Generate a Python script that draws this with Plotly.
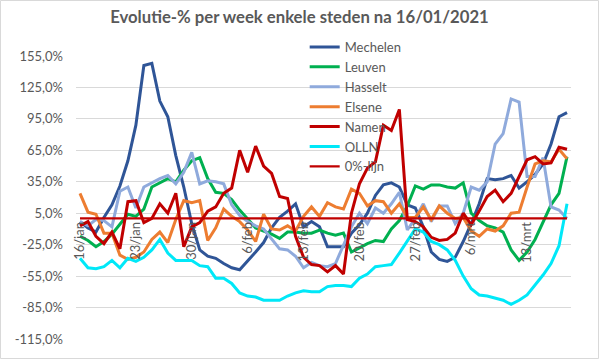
import pandas as pd
import plotly.graph_objects as go

start_date = "2021-01-16"

mechelen = [-3, -9, -13, 1, 13, 31, 55, 89, 146, 148, 112, 97, 60, 30, -5, -30,
            -36, -38, -43, -47, -49, -41, -32, -23, -9, 1, 7, 14, -8, -3, -8, -27,
            -27, -27, -14, -6, 5, 22, 32, 34, 30, 13, 10, -8, -32, -39, -41, -37,
            -22, -5, 14, 38, 37, 38, 41, 29, 35, 42, 52, 71, 97, 101]
leuven = [-17, -21, -27, -22, -15, -5, 4, 2, 9, 30, 34, 38, 35, 46, 55, 58,
          38, 25, 24, 18, 8, 0, -9, -12, -15, -19, -13, -13, -14, -14, -11, -14,
          -16, -14, -32, -28, -24, -21, -22, -10, -2, 12, 31, 28, 32, 32, 30, 29,
          34, 5, -2, -7, -9, -13, -30, -40, -32, -20, -3, 13, 24, 59]
hasselt = [-3, -7, -1, -2, -8, 26, 30, 10, 30, 34, 38, 41, 33, 44, 63, 33,
           36, 35, 33, 13, 3, -3, -7, -10, -20, -29, -30, -36, -47, -42, -45, -46,
           -43, -25, -8, 5, -5, 10, 5, 14, 25, -11, 0, 14, -3, 12, 12, -5,
           5, 30, 27, 35, 71, 81, 114, 111, 40, 40, 58, 11, 8, 0]
elsene = [24, 6, 4, -14, -14, -35, -39, -37, -32, -20, -13, -23, -1, 17, 15, 17,
          -21, -9, 9, 2, -3, -11, -22, 4, -10, -11, -7, -12, 2, 11, 2, 15,
          11, 9, 28, 24, 12, 17, 16, 5, 14, 1, 1, 11, -1, 12, 5, 0,
          1, -12, -17, -10, -12, -7, 5, 6, 30, 52, 55, 54, 66, 57]
namen = [-7, -3, -17, -24, -13, -29, 16, 17, -4, 0, 14, 5, 24, -27, -8, -4,
         7, 11, 24, 29, 65, 44, 69, 50, 43, 21, 19, -17, -37, -44, -45, -51,
         -45, -53, 5, 33, 48, 54, 89, 84, 104, -1, -3, -8, -18, -21, -20, -14,
         5, -6, 7, 21, 27, 16, 24, 40, 56, 59, 52, 53, 68, 66]
olln = [-38, -47, -48, -46, -40, -47, -38, -41, -37, -30, -20, -33, -40, -40, -40, -45,
        -46, -57, -57, -62, -71, -74, -75, -78, -78, -78, -74, -71, -69, -70, -70, -65,
        -64, -64, -65, -57, -53, -46, -45, -44, -33, -22, -10, -13, -22, -25, -30, -40,
        -55, -67, -73, -74, -76, -78, -82, -78, -73, -64, -54, -43, -26, 14]
nullijn = [0] * 62

series_names = ["Mechelen", "Leuven", "Hasselt", "Elsene", "Namen", "OLLN", "0%-lijn"]
series_values = [mechelen, leuven, hasselt, elsene, namen, olln, nullijn]
series_colors = ["#2F5597", "#00B050", "#8FAADC", "#ED7D31", "#C00000", "#00E8F8", "#C00000"]
series_widths = [3, 3, 3, 3, 3, 3, 2.2]

x_tick_labels = ["16/jan", "23/jan", "30/jan", "6/feb", "13/feb", "20/feb", "27/feb", "6/mrt", "13/mrt"]
y_tick_values = [155, 125, 95, 65, 35, 5, -25, -55, -85, -115]
y_tick_labels = ["155,0%", "125,0%", "95,0%", "65,0%", "35,0%", "5,0%", "-25,0%", "-55,0%", "-85,0%", "-115,0%"]

dates = pd.date_range(start_date, periods=len(mechelen), freq="D")
x_tick_values = dates[::7][:len(x_tick_labels)]

y_min, y_max = min(y_tick_values), max(y_tick_values)

FONT = "Lato"
GREY = "#595959"

fig = go.Figure()
for name, vals, col, w in zip(series_names, series_values, series_colors, series_widths):
    fig.add_trace(go.Scatter(x=dates, y=vals, name=name, mode="lines",
                             line=dict(color=col, width=w)))

L, R, T, B = 76, 28, 56, 20
W, H = 599, 359
pw, ph = W - L - R, H - T - B

fig.update_layout(
    width=W, height=H,
    margin=dict(l=L, r=R, t=T, b=B),
    paper_bgcolor="white", plot_bgcolor="white",
    font=dict(family=FONT, size=13, color=GREY),
    title=dict(text="<b>Evolutie-% per week enkele steden na 16/01/2021</b>",
               x=0.5, xanchor="center", xref="container",
               y=1 - 17 / H, yanchor="middle", yref="container",
               font=dict(family=FONT, size=16.7, color=GREY)),
    showlegend=True,
    legend=dict(x=0.462, xanchor="left", y=1 + 24 / ph, yanchor="top",
                bgcolor="rgba(0,0,0,0)", font=dict(family=FONT, size=13, color=GREY),
                tracegroupgap=0, itemclick=False),
    xaxis=dict(
        range=[dates[0] - pd.Timedelta(hours=12), dates[-1] + pd.Timedelta(hours=12)],
        anchor="free", position=(0 - y_min) / (y_max - y_min),
        showgrid=False, zeroline=False, showline=False, ticks="",
        tickvals=x_tick_values, ticktext=x_tick_labels, tickangle=-90,
        tickfont=dict(family=FONT, size=13, color=GREY),
    ),
    yaxis=dict(
        range=[y_min, y_max], tickvals=y_tick_values, ticktext=y_tick_labels,
        showgrid=True, gridcolor="#D9D9D9", gridwidth=1, zeroline=False,
        showline=False, ticks="", ticklabelstandoff=12,
        tickfont=dict(family=FONT, size=13, color=GREY),
    ),
    shapes=[dict(type="rect", xref="paper", yref="paper",
                 x0=(0.5 - L) / pw, x1=(W - 0.5 - L) / pw,
                 y0=(H - B - (H - 0.5)) / ph, y1=(H - B - 0.5) / ph,
                 line=dict(color="#D9D9D9", width=1), fillcolor="rgba(0,0,0,0)",
                 layer="below")],
)

fig.write_html("out.html", config={"displayModeBar": False},
               post_script="document.body.style.margin='0';")
